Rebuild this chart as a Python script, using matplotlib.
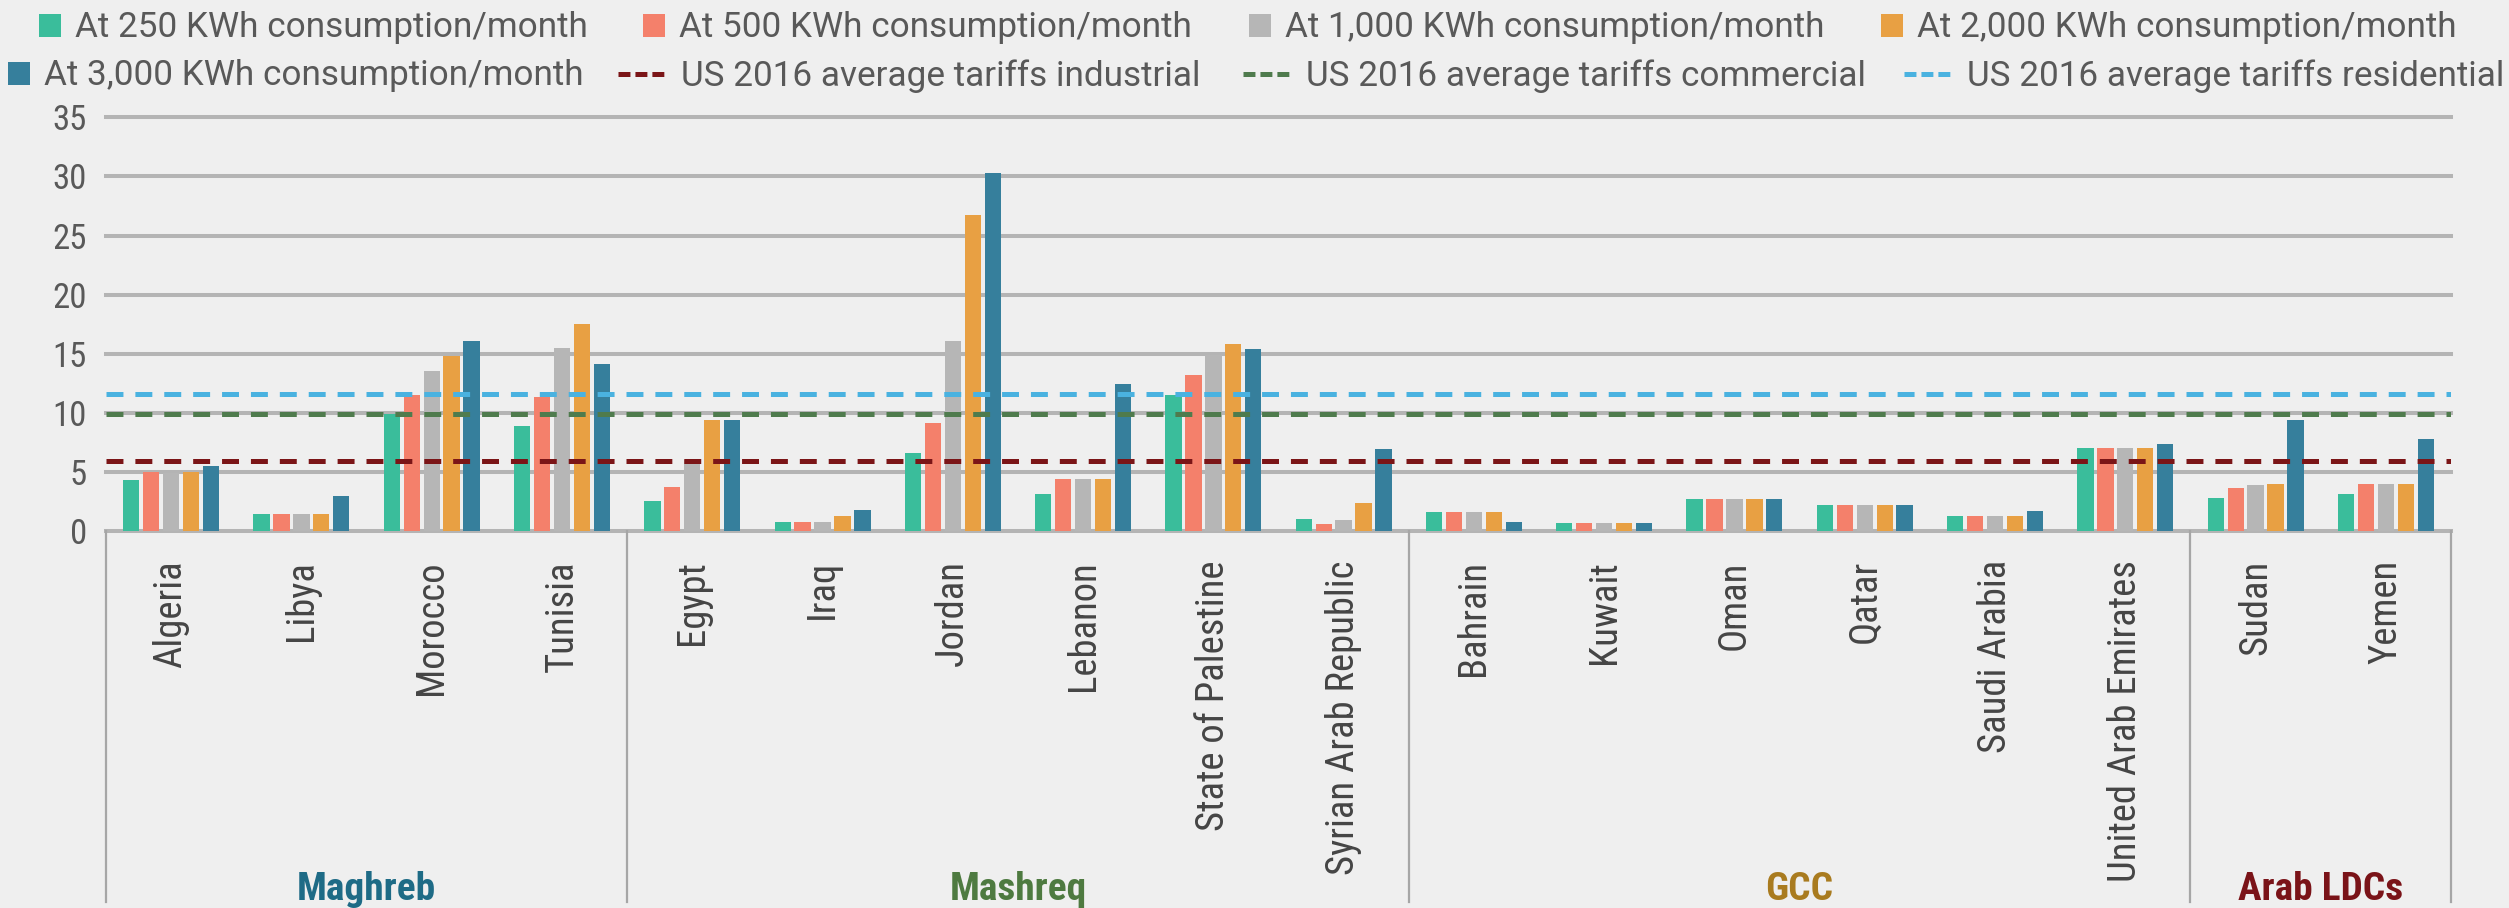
import matplotlib
matplotlib.use("Agg")
import matplotlib.pyplot as plt
import matplotlib.transforms as mtransforms
from matplotlib import font_manager as fm
from matplotlib.patches import Patch
from matplotlib.lines import Line2D
import numpy as np

plt.rcParams['lines.scale_dashes'] = False

# ---------------- data ----------------
countries = ["Algeria", "Libya", "Morocco", "Tunisia",
             "Egypt", "Iraq", "Jordan", "Lebanon", "State of Palestine", "Syrian Arab Republic",
             "Bahrain", "Kuwait", "Oman", "Qatar", "Saudi Arabia", "United Arab Emirates",
             "Sudan", "Yemen"]
groups = ["Maghreb", "Mashreq", "GCC", "Arab LDCs"]
group_sizes = [4, 6, 6, 2]
group_colors = ["#1E6B86", "#4E7A40", "#A97B1F", "#7A1318"]

kwh250 = [4.3, 1.4, 9.9, 8.9, 2.5, 0.8, 6.6, 3.1, 11.5, 1.0, 1.6, 0.7, 2.7, 2.2, 1.3, 7.0, 2.8, 3.1]
kwh500 = [5.0, 1.4, 11.5, 11.3, 3.7, 0.8, 9.1, 4.4, 13.2, 0.6, 1.6, 0.7, 2.7, 2.2, 1.3, 7.0, 3.6, 4.0]
kwh1000 = [4.9, 1.4, 13.5, 15.5, 6.0, 0.8, 16.1, 4.4, 14.9, 0.9, 1.6, 0.7, 2.7, 2.2, 1.3, 7.0, 3.9, 4.0]
kwh2000 = [5.0, 1.4, 14.8, 17.5, 9.4, 1.3, 26.7, 4.4, 15.8, 2.4, 1.6, 0.7, 2.7, 2.2, 1.3, 7.0, 4.0, 4.0]
kwh3000 = [5.5, 3.0, 16.1, 14.1, 9.4, 1.75, 30.3, 12.4, 15.4, 6.9, 0.8, 0.7, 2.7, 2.2, 1.7, 7.4, 9.4, 7.8]

series_labels = ["At 250 KWh consumption/month", "At 500 KWh consumption/month",
                 "At 1,000 KWh consumption/month", "At 2,000 KWh consumption/month",
                 "At 3,000 KWh consumption/month"]
series_values = [kwh250, kwh500, kwh1000, kwh2000, kwh3000]
series_colors = ["#3ABD9B", "#F4806B", "#B6B6B6", "#E8A043", "#367F9C"]

ref_labels = ["US 2016 average tariffs industrial", "US 2016 average tariffs commercial",
              "US 2016 average tariffs residential"]
ref_values = [5.95, 9.9, 11.55]
ref_colors = ["#7B1517", "#4F7B4D", "#4AB2E0"]

yticks = [0, 5, 10, 15, 20, 25, 30, 35]

# ---------------- style ----------------
BG = "#EFEFEF"
GRID = "#B4B4B4"
TXT = "#595959"
SANS = ['Liberation Sans', 'DejaVu Sans']
_names = {f.name for f in fm.fontManager.ttflist}
_cond = [n for n in ['Roboto Condensed', 'Liberation Sans Narrow', 'Arial Narrow'] if n in _names]
COND = _cond[:1] + SANS
LEGF = (['Roboto'] if 'Roboto' in _names else []) + SANS

W, H = 2509, 908
fig = plt.figure(figsize=(W / 100, H / 100), dpi=100, facecolor=BG)
renderer = fig.canvas.get_renderer()


def fit_size(text, family, target_px, weight='normal', base=50.0):
    t = fig.text(0, 0, text, fontsize=base, fontfamily=family, fontweight=weight)
    w = t.get_window_extent(renderer=renderer).width
    t.remove()
    return base * target_px / w


country_fs = fit_size("Syrian Arab Republic", COND, 314)
group_fs = fit_size("Maghreb", COND, 139, weight='bold')
legend_fs = fit_size(" ".join(series_labels + ref_labels), LEGF, 4260 + 7 * 9)

x0, x1, ytop, ybot = 106, 2451, 117.3, 531
ax = fig.add_axes([x0 / W, 1 - ybot / H, (x1 - x0) / W, (ybot - ytop) / H])
ax.set_facecolor(BG)

x = np.arange(len(countries))
slot = 0.153
bw = 0.125
bars = []
for i, (vals, col, lab) in enumerate(zip(series_values, series_colors, series_labels)):
    b = ax.bar(x + (i - 2) * slot, vals, width=bw, color=col, label=lab, zorder=3)
    bars.append(b)

for val, col, lab in zip(ref_values, ref_colors, ref_labels):
    ax.axhline(val, color=col, lw=3.6, linestyle=(0, (12.2, 8.6)), zorder=4, label=lab)

ax.set_xlim(-0.5, len(countries) - 0.5)
ax.set_ylim(0, 35)
for s in ax.spines.values():
    s.set_visible(False)

ax.set_yticks(yticks, labels=[str(v) for v in yticks], fontfamily=COND, fontsize=25, color=TXT)
ax.tick_params(axis='y', length=0, pad=13.7)
ax.yaxis.grid(True, color=GRID, lw=2.9, zorder=0)
ax.set_axisbelow(True)
for gl in ax.get_ygridlines():
    gl.set_clip_on(False)

ax.set_xticks(x, labels=countries, rotation=90, fontfamily=COND, fontsize=country_fs,
              color="#454545", va="top", ha="center")
ax.tick_params(axis='x', length=0, pad=21)

# group separators and labels
trans = mtransforms.blended_transform_factory(ax.transData, ax.transAxes)
bounds = np.concatenate([[0], np.cumsum(group_sizes)]) - 0.5
sep_bottom = (ybot - 902) / (ybot - ytop)
for b in bounds:
    ax.add_line(Line2D([b, b], [0, sep_bottom], transform=trans, clip_on=False,
                       color="#A6A6A6", lw=1.6))
lab_y = (ybot - 900) / (ybot - ytop)
for g, c, a, bnd in zip(groups, group_colors, bounds[:-1], bounds[1:]):
    ax.text((a + bnd) / 2, lab_y, g, transform=trans, ha="center", va="baseline",
            fontsize=group_fs, fontweight="bold", fontfamily=COND, color=c)

# legend: one entry per legend so each sits where the reference has it
fs_px = legend_fs * 100 / 72
prop = {'family': LEGF, 'size': legend_fs}
line_handles = [Line2D([], [], color=c, lw=3.6, linestyle=(0, (8.6, 3.6))) for c in ref_colors]
row1_y, row2_y = 1 - 28 / H, 1 - 76 / H
entries = [
    (bars[0], series_labels[0], 39, row1_y, 22),
    (bars[1], series_labels[1], 643, row1_y, 22),
    (bars[2], series_labels[2], 1249, row1_y, 22),
    (bars[3], series_labels[3], 1881, row1_y, 22),
    (bars[4], series_labels[4], 8, row2_y, 22),
    (line_handles[0], ref_labels[0], 618, row2_y, 49),
    (line_handles[1], ref_labels[1], 1243, row2_y, 49),
    (line_handles[2], ref_labels[2], 1904, row2_y, 49),
]
for h, lab, xs, yr, hl in entries:
    fig.legend(handles=[h], labels=[lab], loc='center left', bbox_to_anchor=(xs / W, yr),
               frameon=False, prop=prop, handlelength=hl / fs_px, handleheight=22 / fs_px,
               handletextpad=14 / fs_px, borderpad=0, borderaxespad=0, labelcolor=TXT)

fig.savefig("out.png", dpi=100, facecolor=BG)
